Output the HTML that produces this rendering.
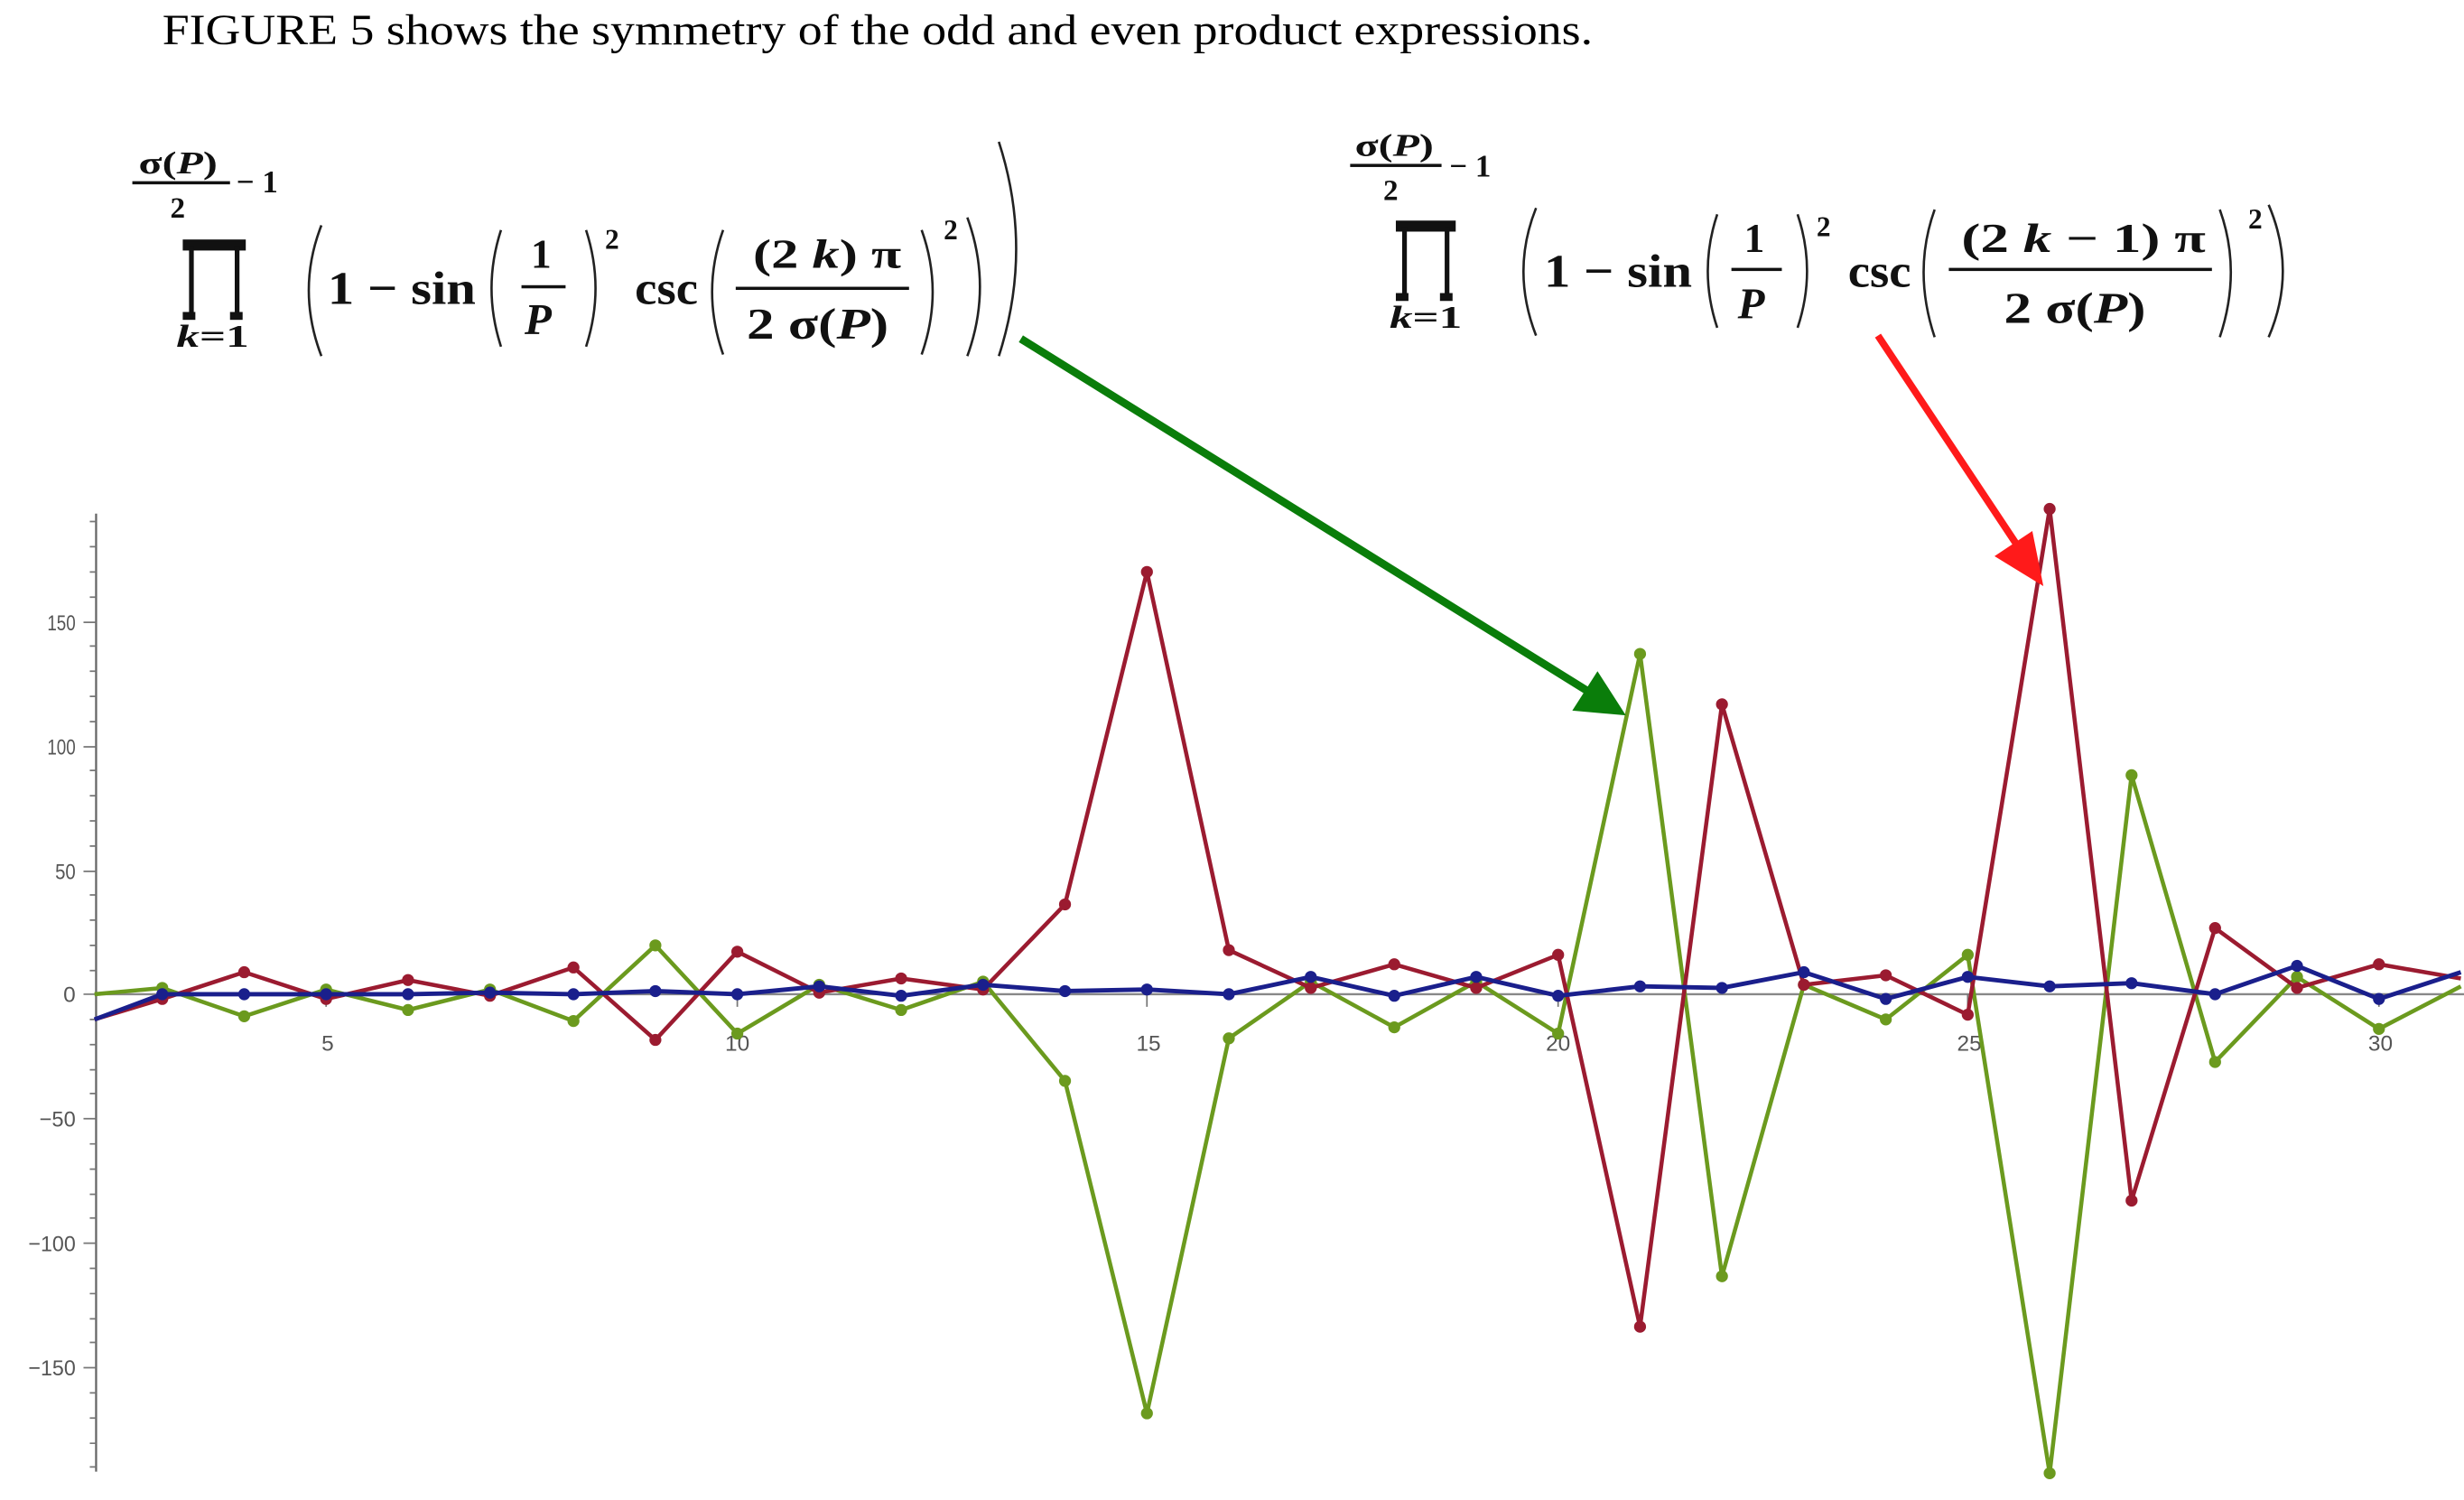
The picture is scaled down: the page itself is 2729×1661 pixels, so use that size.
<!DOCTYPE html>
<html><head><meta charset="utf-8"><style>
html,body{margin:0;padding:0;background:#fff;}
svg{display:block;}
</style></head><body>
<svg width="2729" height="1661" viewBox="0 0 1564 952" preserveAspectRatio="none" xmlns="http://www.w3.org/2000/svg">
<defs>
<marker id="dr" markerWidth="8" markerHeight="8" refX="4" refY="4" markerUnits="userSpaceOnUse"><circle cx="4" cy="4" r="3.8" fill="#9b1b30"/></marker>
<marker id="dg" markerWidth="8" markerHeight="8" refX="4" refY="4" markerUnits="userSpaceOnUse"><circle cx="4" cy="4" r="3.8" fill="#6b9a1e"/></marker>
<marker id="db" markerWidth="8" markerHeight="8" refX="4" refY="4" markerUnits="userSpaceOnUse"><circle cx="4" cy="4" r="3.8" fill="#1a1f8c"/></marker>
</defs>
<text x="103" y="28" font-family="Liberation Serif, serif" font-size="27" fill="#000" textLength="908" lengthAdjust="spacingAndGlyphs">FIGURE 5 shows the symmetry of the odd and even product expressions.</text>

<g font-family="Liberation Serif, serif" font-weight="bold" fill="#111">
<!-- Left formula -->
<text x="88" y="110" font-size="20" textLength="50" lengthAdjust="spacingAndGlyphs">σ(<tspan font-style="italic">P</tspan>)</text>
<rect x="84" y="115" width="62" height="2"/>
<text x="108" y="138" font-size="19">2</text>
<text x="150" y="122" font-size="20">− 1</text>
<rect x="116" y="152" width="40" height="7"/>
<rect x="120" y="156" width="3" height="45"/><rect x="149" y="156" width="3" height="45"/>
<rect x="116" y="198" width="8" height="5"/><rect x="146" y="198" width="8" height="5"/>
<text x="112" y="220" font-size="20" textLength="46" lengthAdjust="spacingAndGlyphs"><tspan font-style="italic">k</tspan>=1</text>
<text x="208" y="193" font-size="30" textLength="94" lengthAdjust="spacingAndGlyphs">1 − sin</text>
<text x="337" y="170" font-size="26">1</text>
<rect x="331" y="181" width="28" height="2"/>
<text x="333" y="212" font-size="28" font-style="italic">P</text>
<text x="384" y="158" font-size="18">2</text>
<text x="403" y="193" font-size="30" textLength="40" lengthAdjust="spacingAndGlyphs">csc</text>
<text x="478" y="170" font-size="26" textLength="94" lengthAdjust="spacingAndGlyphs">(2 <tspan font-style="italic">k</tspan>) π</text>
<rect x="467" y="182" width="110" height="2"/>
<text x="474" y="215" font-size="28" textLength="90" lengthAdjust="spacingAndGlyphs">2 σ(<tspan font-style="italic">P</tspan>)</text>
<text x="599" y="152" font-size="18">2</text>

<!-- Right formula -->
<text x="860" y="99" font-size="20" textLength="50" lengthAdjust="spacingAndGlyphs">σ(<tspan font-style="italic">P</tspan>)</text>
<rect x="857" y="104" width="58" height="2"/>
<text x="878" y="127" font-size="19">2</text>
<text x="920" y="112" font-size="20">− 1</text>
<rect x="886" y="140" width="38" height="7"/>
<rect x="890" y="144" width="3" height="45"/><rect x="917" y="144" width="3" height="45"/>
<rect x="886" y="186" width="8" height="5"/><rect x="914" y="186" width="8" height="5"/>
<text x="882" y="208" font-size="20" textLength="46" lengthAdjust="spacingAndGlyphs"><tspan font-style="italic">k</tspan>=1</text>
<text x="980" y="182" font-size="30" textLength="94" lengthAdjust="spacingAndGlyphs">1 − sin</text>
<text x="1107" y="160" font-size="26">1</text>
<rect x="1099" y="170" width="32" height="2"/>
<text x="1103" y="202" font-size="28" font-style="italic">P</text>
<text x="1153" y="150" font-size="18">2</text>
<text x="1173" y="182" font-size="30" textLength="40" lengthAdjust="spacingAndGlyphs">csc</text>
<text x="1245" y="160" font-size="26" textLength="155" lengthAdjust="spacingAndGlyphs">(2 <tspan font-style="italic">k</tspan> − 1) π</text>
<rect x="1237" y="170" width="167" height="2"/>
<text x="1272" y="205" font-size="28" textLength="90" lengthAdjust="spacingAndGlyphs">2 σ(<tspan font-style="italic">P</tspan>)</text>
<text x="1427" y="145" font-size="18">2</text>
</g>

<g fill="none" stroke="#222" stroke-width="1.5">
<!-- left parens -->
<path d="M204 143 Q188 184 204 226"/>
<path d="M318 146 Q306 183 318 220"/><path d="M372 146 Q384 183 372 220"/>
<path d="M459 146 Q445 185 459 225"/><path d="M585 146 Q599 185 585 225"/>
<path d="M614 138 Q630 182 614 226"/>
<path d="M634 90 Q656 158 634 226"/>
<!-- right parens -->
<path d="M975 132 Q959 172 975 213"/>
<path d="M1090 136 Q1078 172 1090 208"/><path d="M1141 136 Q1153 172 1141 208"/>
<path d="M1228 133 Q1214 172 1228 214"/><path d="M1409 133 Q1423 172 1409 214"/>
<path d="M1440 130 Q1458 172 1440 214"/>
</g>

<!-- axes -->
<g stroke="#666" stroke-width="1.3">
<line x1="60" y1="631" x2="1564" y2="631" stroke="#888"/>
<line x1="61" y1="326" x2="61" y2="934"/>
</g>
<g stroke="#777" stroke-width="1">
<path d="M61 331h-4M61 347h-4M61 363h-4M61 379h-4M61 395h-8M61 410h-4M61 426h-4M61 442h-4M61 458h-4M61 474h-8M61 489h-4M61 505h-4M61 521h-4M61 537h-4M61 553h-8M61 568h-4M61 584h-4M61 600h-4M61 616h-4M61 631h-8M61 647h-4M61 663h-4M61 679h-4M61 694h-4M61 710h-8M61 726h-4M61 742h-4M61 758h-4M61 773h-4M61 789h-8M61 805h-4M61 821h-4M61 837h-4M61 852h-4M61 868h-8M61 884h-4M61 900h-4M61 916h-4M61 931h-4"/>
<path d="M207 631v8M468 631v8M728 631v8M989 631v8M1249 631v8M1510 631v8"/>
</g>
<g font-family="Liberation Sans, sans-serif" font-size="14" fill="#555" text-anchor="end">
<text x="48" y="400" textLength="18" lengthAdjust="spacingAndGlyphs">150</text>
<text x="48" y="479" textLength="18" lengthAdjust="spacingAndGlyphs">100</text>
<text x="48" y="558" textLength="13" lengthAdjust="spacingAndGlyphs">50</text>
<text x="48" y="636">0</text>
<text x="48" y="715" textLength="23" lengthAdjust="spacingAndGlyphs">−50</text>
<text x="48" y="794" textLength="30" lengthAdjust="spacingAndGlyphs">−100</text>
<text x="48" y="873" textLength="30" lengthAdjust="spacingAndGlyphs">−150</text>
</g>
<g font-family="Liberation Sans, sans-serif" font-size="14" fill="#555" text-anchor="middle">
<text x="208" y="667">5</text><text x="468" y="667">10</text><text x="729" y="667">15</text>
<text x="989" y="667">20</text><text x="1250" y="667">25</text><text x="1511" y="667">30</text>
</g>

<!-- series -->
<polyline fill="none" stroke="#6b9a1e" stroke-width="2.6" stroke-linejoin="round" marker-mid="url(#dg)" points="60,631 103,627 155,645 207,628 259,641 311,628 364,648 416,600 468,656 520,625 572,641 624,623 676,686 728,897 780,659 832,623 885,652 937,623 989,656 1041,415 1093,810 1145,625 1197,647 1249,606 1301,935 1353,492 1406,674 1458,620 1510,653 1562,626"/>
<polyline fill="none" stroke="#9b1b30" stroke-width="2.6" stroke-linejoin="round" marker-mid="url(#dr)" points="60,647 103,634 155,617 207,634 259,622 311,632 364,614 416,660 468,604 520,630 572,621 624,628 676,574 728,363 780,603 832,627 885,612 937,627 989,606 1041,842 1093,447 1145,625 1197,619 1249,644 1301,323 1353,762 1406,589 1458,627 1510,612 1562,621"/>
<polyline fill="none" stroke="#1a1f8c" stroke-width="2.8" stroke-linejoin="round" marker-mid="url(#db)" points="60,647 103,631 155,631 207,631 259,631 311,630 364,631 416,629 468,631 520,626 572,632 624,625 676,629 728,628 780,631 832,620 885,632 937,620 989,632 1041,626 1093,627 1145,617 1197,634 1249,620 1301,626 1353,624 1406,631 1458,613 1510,634 1562,617"/>

<!-- arrows -->
<line x1="648" y1="215" x2="1010" y2="440" stroke="#0a7d0a" stroke-width="5"/>
<polygon points="1032,454 998,451 1014,426" fill="#0a7d0a"/>
<line x1="1192" y1="213" x2="1283" y2="350" stroke="#ff1a1a" stroke-width="4.5"/>
<polygon points="1297,372 1266,353 1290,337" fill="#ff1a1a"/>
</svg>
</body></html>
